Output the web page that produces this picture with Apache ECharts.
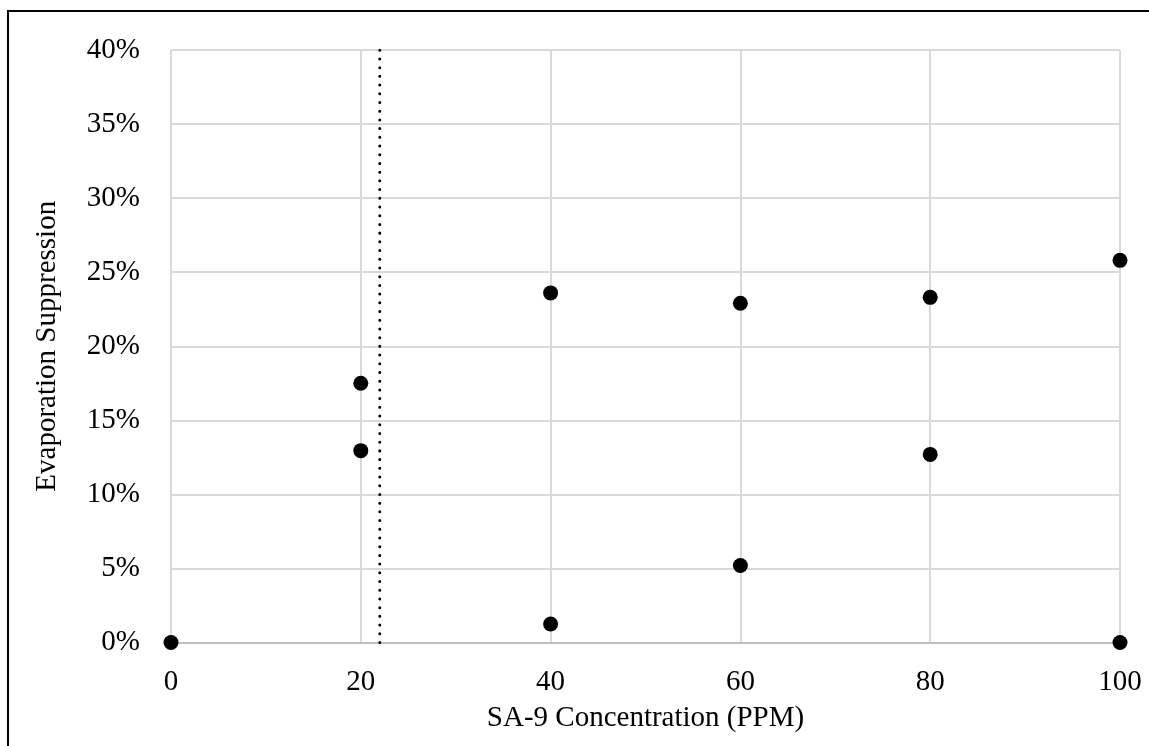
<!DOCTYPE html>
<html>
<head>
<meta charset="utf-8">
<title>Evaporation Suppression vs SA-9 Concentration</title>
<script src="https://cdn.jsdelivr.net/npm/echarts@6/dist/echarts.min.js"></script>
<style>
  html, body { margin: 0; padding: 0; background: #ffffff; }
  #chart { width: 1149px; height: 746px; }
</style>
</head>
<body>
<div id="chart"></div>
<script>
// SA-9 concentration (PPM) of each measurement
const concentrations = [0, 20, 20, 40, 40, 60, 60, 80, 80, 100, 100];
// Evaporation suppression (%) measured at each concentration
const suppression = [0, 17.5, 12.95, 23.6, 1.25, 22.9, 5.2, 23.3, 12.7, 25.8, 0];
// Concentration where the dotted reference line is drawn
const thresholdX = 22;
const xTicks = [0, 20, 40, 60, 80, 100];
const yTicks = [0, 5, 10, 15, 20, 25, 30, 35, 40];

const points = concentrations.map((c, i) => [c, suppression[i]]);
const font = '"Liberation Serif", "Times New Roman", serif';

const chart = echarts.init(document.getElementById('chart'));
chart.setOption({
  backgroundColor: '#ffffff',
  animation: false,
  textStyle: { fontFamily: font },
  graphic: [{
    type: 'rect',
    shape: { x: 8, y: 11, width: 1300, height: 900 },
    style: { fill: 'none', stroke: '#000000', lineWidth: 2 },
    silent: true
  }],
  grid: {
    left: 171, right: 29, top: 50, bottom: 103.5,
    containLabel: false,
    outerBoundsMode: 'none'
  },
  xAxis: {
    type: 'value',
    min: xTicks[0],
    max: xTicks[xTicks.length - 1],
    interval: 20,
    name: 'SA-9 Concentration (PPM)',
    nameLocation: 'middle',
    nameGap: 61,
    nameTextStyle: { fontFamily: font, fontSize: 29, color: '#000000' },
    axisLine: { show: true, lineStyle: { color: '#bfbfbf', width: 2 } },
    axisTick: { show: false },
    axisLabel: { fontFamily: font, fontSize: 29, color: '#000000', margin: 25 },
    splitLine: { show: true, lineStyle: { color: '#d9d9d9', width: 2 } }
  },
  yAxis: {
    type: 'value',
    min: yTicks[0],
    max: yTicks[yTicks.length - 1],
    interval: 5,
    name: 'Evaporation Suppression',
    nameLocation: 'middle',
    nameGap: 109,
    nameTextStyle: { fontFamily: font, fontSize: 29, color: '#000000' },
    axisLine: { show: false },
    axisTick: { show: false },
    axisLabel: { fontFamily: font, fontSize: 29, color: '#000000', margin: 31, formatter: v => v + '%' },
    splitLine: { show: true, lineStyle: { color: '#d9d9d9', width: 2 } }
  },
  series: [
    {
      type: 'line',
      data: [[thresholdX, yTicks[0]], [thresholdX, yTicks[yTicks.length - 1]]],
      symbol: 'none',
      lineStyle: { color: '#000000', width: 3, type: [0.01, 8.7], cap: 'round' },
      z: 3,
      silent: true
    },
    {
      type: 'scatter',
      data: points,
      symbol: 'circle',
      symbolSize: 15,
      itemStyle: { color: '#000000', opacity: 1 },
      z: 4
    }
  ]
});
</script>
</body>
</html>
